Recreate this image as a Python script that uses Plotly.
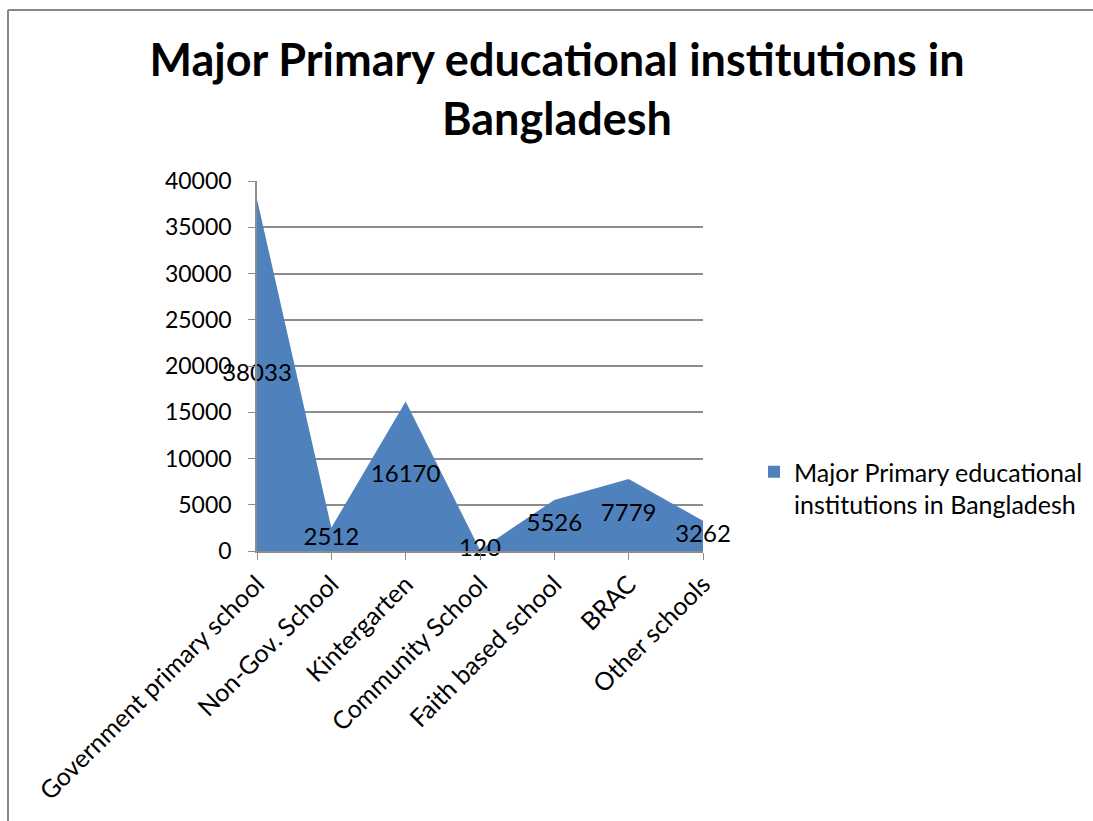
import plotly.graph_objects as go

categories = [
    "Government primary school",
    "Non-Gov. School",
    "Kintergarten",
    "Community School",
    "Faith based school",
    "BRAC",
    "Other schools",
]
counts = [38033, 2512, 16170, 120, 5526, 7779, 3262]
y_ticks = [0, 5000, 10000, 15000, 20000, 25000, 30000, 35000, 40000]
series_name = "Major Primary educational institutions in Bangladesh"

W, H = 1093, 821
L, R, T, B = 257, 703, 181, 551  # plot area in pixels
FONT = "Lato, 'Open Sans', sans-serif"
BLUE = "#4F81BD"
GRID = "#8C8C8C"

xs = list(range(len(categories)))

fig = go.Figure()

# filled area
fig.add_trace(go.Scatter(
    x=xs, y=counts, mode="lines", fill="tozeroy",
    line=dict(width=0, color=BLUE), fillcolor=BLUE,
    showlegend=False, hoverinfo="skip",
))

# value labels centred inside the area
fig.add_trace(go.Scatter(
    x=xs, y=[v / 2 for v in counts], mode="text",
    text=[str(v) for v in counts], textposition="middle center",
    textfont=dict(family=FONT, size=24, color="#000000"),
    showlegend=False, hoverinfo="skip", cliponaxis=False,
))

# legend entry
fig.add_trace(go.Scatter(
    x=[None], y=[None], mode="markers",
    marker=dict(symbol="square", size=13, color=BLUE),
    name="Major Primary educational<br>institutions in Bangladesh",
))


def px_x(p):
    return (p - L) / (R - L)


def px_y(p):
    return (B - p) / (B - T)


fig.update_layout(
    width=W, height=H,
    margin=dict(l=L, r=W - R, t=T, b=H - B, pad=0, autoexpand=False),
    paper_bgcolor="white", plot_bgcolor="white",
    font=dict(family=FONT, size=24, color="#000000"),
    title=dict(
        text="<b>Major Primary educational institutions in<br>Bangladesh</b>",
        x=557 / W, xanchor="center",
        y=1 - 76 / H, yanchor="middle",
        font=dict(family=FONT, size=45, color="#000000"),
    ),
    showlegend=True,
    legend=dict(
        x=px_x(754), xanchor="left",
        y=px_y(488), yanchor="middle",
        valign="top",
        font=dict(family=FONT, size=25, color="#000000"),
        bgcolor="rgba(0,0,0,0)", itemsizing="constant",
    ),
    xaxis=dict(
        range=[0, len(categories) - 1],
        tickmode="array", tickvals=xs, ticktext=categories,
        tickangle=-45, ticks="outside", ticklen=7, tickcolor=GRID,
        showline=True, linecolor=GRID, linewidth=1.5,
        showgrid=False, zeroline=False,
        tickfont=dict(family=FONT, size=25, color="#000000"),
    ),
    yaxis=dict(
        range=[0, 40000],
        tickmode="array", tickvals=y_ticks,
        ticktext=[str(v) for v in y_ticks],
        ticks="outside", ticklen=7, tickcolor=GRID,
        showline=True, linecolor=GRID, linewidth=1.5,
        showgrid=True, gridcolor=GRID, gridwidth=1.5,
        zeroline=False, ticklabelstandoff=12,
        tickfont=dict(family=FONT, size=23, color="#000000"),
    ),
    shapes=[
        dict(type="line", xref="paper", yref="paper",
             x0=px_x(8), x1=px_x(W + 5), y0=px_y(10), y1=px_y(10),
             line=dict(color="#878787", width=2)),
        dict(type="line", xref="paper", yref="paper",
             x0=px_x(8), x1=px_x(8), y0=px_y(10), y1=px_y(H + 5),
             line=dict(color="#878787", width=2)),
    ],
)

fig.write_html("out.html")
